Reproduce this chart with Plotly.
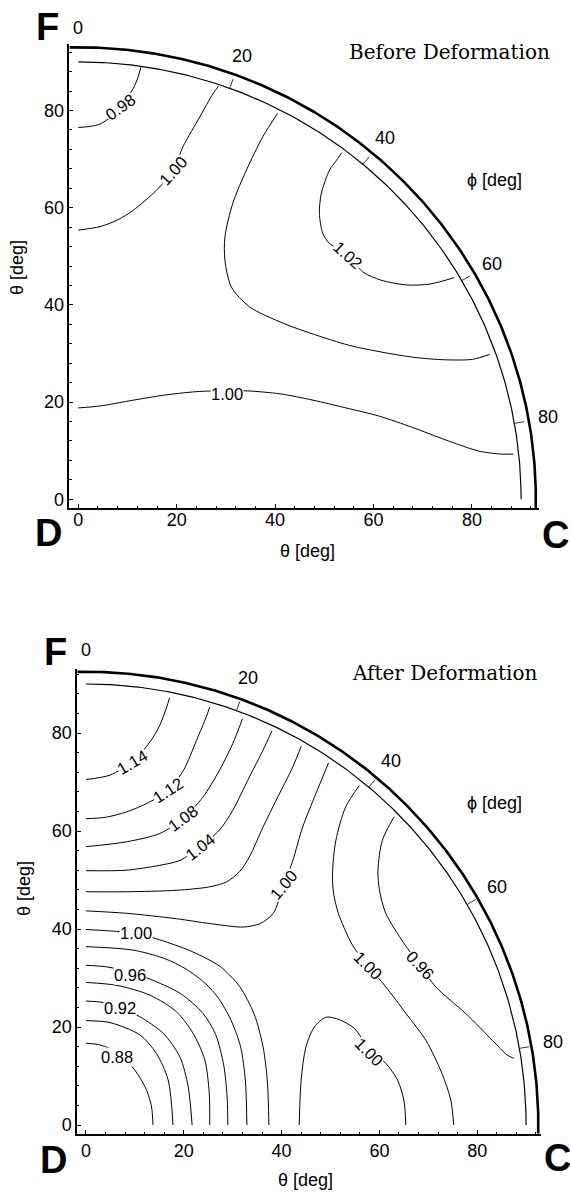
import math
import numpy as np
import plotly.graph_objects as go

W, H = 570, 1194

# ---------------- Before Deformation : contour lines (theta_x, theta_y) [deg] ----------------
bef_098 = [(0, 76.5), (2.2, 76.7), (4.4, 77.2), (6.5, 78.6), (8.5, 80.8), (10.1, 82.9),
           (11.2, 84.6), (12.2, 87.0), (12.7, 88.9)]
bef_100_upper = [(0, 55.4), (4.4, 56.1), (8.0, 57.5), (11.2, 59.5), (15.9, 63.6), (19.2, 67.6),
                 (21.3, 72.6), (24.7, 78.7), (27.4, 83.5), (28.5, 85.0)]
bef_100_loop = [(40.5, 79.4), (37.5, 74.6), (34.2, 67.8), (31.4, 60.9), (29.8, 54.0), (29.8, 49.2),
                (31.1, 43.7), (34.8, 39.6), (41.7, 36.2), (48.0, 33.9), (55.0, 31.7), (61.6, 30.3),
                (68.3, 29.2), (74.7, 28.7), (80.1, 28.8), (83.6, 29.8)]
bef_102 = [(53.5, 71.3), (52.3, 69.5), (51.1, 67.8), (49.4, 63.0), (49.0, 58.8), (49.7, 54.7),
           (51.0, 52.7), (54.8, 50.3), (57.8, 46.8), (61.5, 45.1), (66.8, 44.1), (71.5, 44.3),
           (76.4, 45.6)]
bef_100_lower = [(0, 18.8), (4.4, 19.2), (11.2, 20.4), (17.9, 21.5), (24.7, 22.2), (30.2, 22.3),
                 (34.5, 22.3), (41.0, 21.7), (47.7, 20.4), (54.4, 18.8), (61.2, 17.1), (67.9, 14.8),
                 (74.7, 12.2), (81.5, 9.9), (86.0, 9.3), (88.4, 9.3)]
bef_contours = [bef_098, bef_100_upper, bef_100_loop, bef_102, bef_100_lower]

bef_label_text = ["0.98", "1.00", "1.02", "1.00"]
bef_label_x = [8.5, 19.2, 54.8, 30.2]
bef_label_y = [80.8, 67.6, 50.3, 21.7]
bef_label_angle = [-36, -48, 42, 0]

# ---------------- After Deformation : contour lines ----------------
aft_114 = [(0, 70.5), (4.9, 71.4), (9.5, 74.1), (13.1, 78.2), (15.1, 81.6), (16.5, 85.3), (17.1, 87.2)]
aft_112 = [(0, 62.5), (4.0, 62.8), (8.3, 63.9), (12.8, 65.8), (16.8, 68.3), (20.0, 72.5),
           (22.6, 78.5), (24.6, 83.3), (25.3, 85.3)]
aft_108 = [(0, 56.8), (8.3, 57.8), (15.1, 59.5), (19.9, 62.6), (23.9, 66.9), (27.3, 72.4),
           (30.0, 77.8), (32.0, 82.9)]
aft_104 = [(0, 51.9), (8.3, 52.0), (15.1, 53.0), (19.2, 54.0), (23.3, 56.8), (27.3, 60.2),
           (30.0, 64.2), (33.4, 71.0), (36.2, 76.5), (38.0, 80.4)]
aft_102 = [(0, 47.6), (8.3, 47.6), (18.5, 47.9), (25.3, 48.6), (28.7, 49.6), (31.4, 51.7),
           (33.4, 54.7), (36.2, 60.8), (38.9, 66.3), (42.3, 73.1), (44.0, 77.3)]
aft_100_saddle = [(49.6, 73.9), (47.0, 67.6), (44.3, 60.8), (42.3, 54.0), (40.4, 48.9), (38.3, 43.2),
                  (35.6, 41.1), (32.2, 40.4), (25.4, 41.1), (18.5, 42.1), (8.3, 43.2), (0, 43.7)]
aft_100_corner = [(0, 39.9), (5.0, 39.6), (10.3, 39.1), (14.4, 38.0), (20.5, 35.9), (24.0, 34.3),
                  (27.5, 32.3), (31.4, 28.3), (34.4, 22.6), (36.2, 16.0), (37.1, 8.8), (37.4, 0)]
aft_098 = [(0, 36.4), (9.6, 35.7), (16.0, 34.0), (20.5, 31.8), (24.5, 28.8), (27.0, 26.0),
           (29.6, 21.5), (31.6, 16.0), (32.6, 9.0), (32.9, 0)]
aft_096 = [(0, 32.6), (4.0, 32.3), (8.0, 31.5), (13.0, 29.8), (19.2, 26.9), (23.9, 22.8),
           (26.5, 18.5), (28.2, 12.0), (28.9, 5.0), (29.0, 0)]
aft_094 = [(0, 29.1), (6.3, 28.5), (13.1, 26.5), (18.5, 23.1), (21.9, 18.7), (24.3, 13.3),
           (25.2, 6.5), (25.3, 0)]
aft_092 = [(0, 25.3), (3.5, 25.0), (6.9, 23.9), (11.0, 22.1), (15.8, 18.7), (19.2, 13.9),
           (20.9, 7.8), (21.7, 0)]
aft_090 = [(0, 21.3), (4.9, 20.9), (11.0, 18.4), (14.4, 14.6), (16.8, 9.2), (17.8, 0)]
aft_088 = [(0, 16.7), (3.0, 16.3), (6.5, 14.8), (10.0, 11.2), (12.4, 7.1), (13.4, 3.7), (13.7, 0)]
aft_100_long = [(55.9, 69.3), (53.1, 64.9), (51.1, 58.1), (50.4, 51.3), (50.6, 47.5), (51.6, 43.2),
                (54.5, 36.7), (57.6, 32.6), (61.3, 28.2), (65.4, 22.8), (69.5, 17.3), (72.8, 10.5),
                (74.6, 5.1), (75.2, 0)]
aft_096_right = [(63.0, 62.9), (60.6, 58.1), (59.7, 52.0), (60.0, 48.0), (61.3, 43.2), (65.0, 37.1),
                 (68.3, 32.6), (71.5, 28.2), (77.6, 22.8), (83.1, 17.3), (86.1, 14.3), (87.5, 13.6)]
aft_100_u = [(43.6, 0), (44.0, 9.2), (45.0, 16.0), (46.7, 20.0), (49.1, 22.0), (51.8, 21.5),
             (54.9, 19.7), (57.9, 15.5), (61.3, 12.6), (63.7, 9.2), (65.0, 5.1), (65.4, 0)]
aft_contours = [aft_114, aft_112, aft_108, aft_104, aft_102, aft_100_saddle, aft_100_corner,
                aft_098, aft_096, aft_094, aft_092, aft_090, aft_088, aft_100_long,
                aft_096_right, aft_100_u]

aft_label_text = ["1.14", "1.12", "1.08", "1.04", "1.00", "1.00", "0.96", "0.92", "0.88",
                  "1.00", "0.96", "1.00"]
aft_label_x = [9.5, 16.8, 19.9, 23.3, 40.4, 10.3, 9.0, 6.9, 6.3, 57.6, 68.3, 57.9]
aft_label_y = [74.1, 68.3, 62.6, 56.8, 48.9, 39.1, 30.7, 23.9, 13.9, 32.6, 32.6, 14.9]
aft_label_angle = [-31, -33, -36, -38, -50, 0, 0, 0, 0, 45, 47, 45]

# axis ticks
theta_ticks = [0, 20, 40, 60, 80]
phi_ticks = [0, 20, 40, 60, 80]

# ---------------- figure ----------------
FONT = "Liberation Sans, Arial, Helvetica, sans-serif"
SERIF = "DejaVu Serif, Liberation Serif, serif"

# panel geometry in pixels: (x0_px, sx, y0_px, sy, outer radius)
panels = [
    dict(x0=78.3, sx=4.92, y0=499.3, sy=4.86, R=93.0, xa="x", ya="y", xl="xaxis", yl="yaxis",
         contours=bef_contours, lt=bef_label_text, lx=bef_label_x, ly=bef_label_y, la=bef_label_angle,
         title="Before Deformation", title_px=(449, 52), phi_px=(494, 180),
         xt_px=(307, 551), yt_px=(17, 268), xstand=-5,
         F=(47, 27), D=(48, 533), C=(555, 535)),
    dict(x0=86.0, sx=4.89, y0=1125.0, sy=4.90, R=92.5, xa="x2", ya="y2", xl="xaxis2", yl="yaxis2",
         contours=aft_contours, lt=aft_label_text, lx=aft_label_x, ly=aft_label_y, la=aft_label_angle,
         title="After Deformation", title_px=(445, 673), phi_px=(494, 803),
         xt_px=(305, 1180), yt_px=(24, 889), xstand=0,
         F=(55, 652), D=(53, 1160), C=(557, 1158)),
]

fig = go.Figure()
annotations = []
layout_axes = {}
LO = -1.8


def ppx(px):
    return px / W


def ppy(py):
    return 1 - py / H


def txt(x, y, text, size, family=FONT, angle=0, **kw):
    d = dict(x=x, y=y, xref="paper", yref="paper", text=text, showarrow=False,
             xanchor="center", yanchor="middle", textangle=angle,
             font=dict(family=family, size=size, color="black"))
    d.update(kw)
    return d


for p in panels:
    hi = p["R"] + 0.6
    xdom = [ppx(p["x0"] + LO * p["sx"]), ppx(p["x0"] + hi * p["sx"])]
    ydom = [ppy(p["y0"] - LO * p["sy"]), ppy(p["y0"] - hi * p["sy"])]
    axcommon = dict(
        range=[LO, hi], showgrid=False, zeroline=False, showline=True, linecolor="black",
        linewidth=1.5, ticks="inside", ticklen=4, tickwidth=1, tickcolor="black",
        tickvals=theta_ticks, ticktext=[str(t) for t in theta_ticks],
        tickfont=dict(family=FONT, size=18, color="black"),
        minor=dict(dtick=4, tick0=0, ticks="inside", ticklen=2.5, tickwidth=1, tickcolor="black"),
        fixedrange=True, automargin=False,
    )
    layout_axes[p["xl"]] = dict(axcommon, domain=xdom, anchor=p["ya"], ticklabelstandoff=p["xstand"])
    layout_axes[p["yl"]] = dict(axcommon, domain=ydom, anchor=p["xa"])

    def d2p(x, y, p=p):
        return ppx(p["x0"] + x * p["sx"]), ppy(p["y0"] - y * p["sy"])

    # contour lines
    for c in p["contours"]:
        fig.add_trace(go.Scatter(x=[q[0] for q in c], y=[q[1] for q in c], mode="lines",
                                 line=dict(color="black", width=1, shape="spline", smoothing=0.8),
                                 xaxis=p["xa"], yaxis=p["ya"], hoverinfo="skip", showlegend=False))
    # inner boundary arc (theta = 90)
    ph = np.linspace(0, math.pi / 2, 200)
    fig.add_trace(go.Scatter(x=90 * np.sin(ph), y=90 * np.cos(ph), mode="lines",
                             line=dict(color="black", width=1.2), xaxis=p["xa"], yaxis=p["ya"],
                             hoverinfo="skip", showlegend=False))
    # outer phi scale arc
    a0 = math.asin(-LO / p["R"])
    ph2 = np.linspace(-a0, math.pi / 2 + a0, 300)
    fig.add_trace(go.Scatter(x=p["R"] * np.sin(ph2), y=p["R"] * np.cos(ph2), mode="lines",
                             line=dict(color="black", width=2.6), xaxis=p["xa"], yaxis=p["ya"],
                             hoverinfo="skip", showlegend=False))
    # phi ticks
    tx, ty = [], []
    for f in phi_ticks[1:]:
        fr = math.radians(f)
        tx += [90 * math.sin(fr), 92 * math.sin(fr), None]
        ty += [90 * math.cos(fr), 92 * math.cos(fr), None]
    fig.add_trace(go.Scatter(x=tx, y=ty, mode="lines", line=dict(color="black", width=0.8),
                             xaxis=p["xa"], yaxis=p["ya"], hoverinfo="skip", showlegend=False))
    # phi tick labels (outside the axis range -> placed in paper coordinates)
    for f in phi_ticks:
        fr = math.radians(f)
        lx, ly = d2p(97 * math.sin(fr), 97 * math.cos(fr))
        annotations.append(txt(lx, ly, str(f), 18))
    # contour labels
    for t, x, y, a in zip(p["lt"], p["lx"], p["ly"], p["la"]):
        annotations.append(dict(x=x, y=y, xref=p["xa"], yref=p["ya"], text=t, showarrow=False,
                                xanchor="center", yanchor="middle",
                                textangle=a, bgcolor="white", borderpad=0,
                                font=dict(family=FONT, size=16.5, color="black")))
    # texts
    annotations.append(txt(ppx(p["title_px"][0]), ppy(p["title_px"][1]), p["title"], 20, family=SERIF))
    annotations.append(txt(ppx(p["phi_px"][0]), ppy(p["phi_px"][1]), "\u03d5 [deg]", 18))
    annotations.append(txt(ppx(p["xt_px"][0]), ppy(p["xt_px"][1]), "\u03b8 [deg]", 18))
    annotations.append(txt(ppx(p["yt_px"][0]), ppy(p["yt_px"][1]), "\u03b8 [deg]", 18, angle=-90))
    for k in ["F", "D", "C"]:
        annotations.append(txt(ppx(p[k][0]), ppy(p[k][1]), "<b>%s</b>" % k, 38))

fig.update_layout(
    width=W, height=H, margin=dict(l=0, r=0, t=0, b=0, autoexpand=False),
    paper_bgcolor="white", plot_bgcolor="white",
    showlegend=False, annotations=annotations, **layout_axes,
)

fig.write_html("out.html", config={"displayModeBar": False},
               post_script="document.body.style.margin='0';document.body.style.padding='0';"
                           "window.dispatchEvent(new Event('resize'));")
